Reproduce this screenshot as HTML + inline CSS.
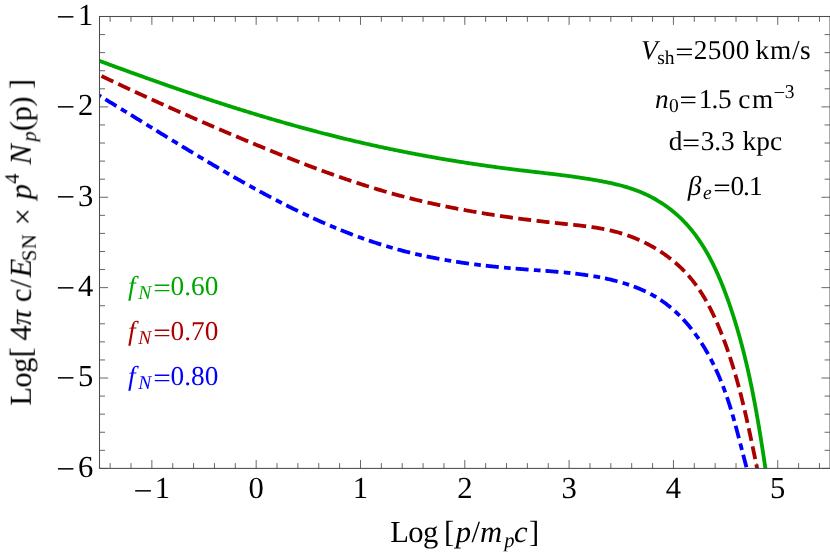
<!DOCTYPE html>
<html><head><meta charset="utf-8"><title>plot</title>
<style>
html,body{margin:0;padding:0;background:#fff;}
svg{display:block;text-rendering:geometricPrecision;font-family:"Liberation Serif","DejaVu Serif",serif;fill:#000;}
</style></head><body>
<svg width="830" height="554" viewBox="0 0 830 554">
<rect width="830" height="554" fill="#fff"/>
<defs><clipPath id="c"><rect x="99.7" y="16.5" width="730.20" height="451.90"/></clipPath></defs>
<g clip-path="url(#c)" fill="none" stroke-width="3.8">
<path d="M99.10,60.73 L100.03,61.08 L100.96,61.43 L101.89,61.77 L102.82,62.12 L103.75,62.46 L104.68,62.81 L105.61,63.15 L106.54,63.50 L107.47,63.84 L108.40,64.19 L109.34,64.53 L110.27,64.87 L111.20,65.22 L112.13,65.56 L113.06,65.90 L113.99,66.25 L114.93,66.59 L115.86,66.93 L116.79,67.27 L117.72,67.61 L118.65,67.96 L119.59,68.30 L120.52,68.64 L121.45,68.98 L122.38,69.32 L123.32,69.66 L124.25,70.00 L125.18,70.34 L126.12,70.68 L127.05,71.02 L127.98,71.36 L128.91,71.70 L129.85,72.04 L130.78,72.37 L131.72,72.71 L132.65,73.05 L133.58,73.39 L134.52,73.73 L135.45,74.06 L136.38,74.40 L137.32,74.74 L138.25,75.07 L139.19,75.41 L140.12,75.74 L141.06,76.08 L141.99,76.41 L142.93,76.75 L143.86,77.08 L144.80,77.42 L145.73,77.75 L146.67,78.09 L147.60,78.42 L148.54,78.75 L149.47,79.09 L150.41,79.42 L151.34,79.75 L152.28,80.08 L153.21,80.41 L154.15,80.75 L155.09,81.08 L156.02,81.41 L156.96,81.74 L157.90,82.07 L158.83,82.40 L159.77,82.73 L160.70,83.06 L161.64,83.39 L162.58,83.71 L163.52,84.04 L164.45,84.37 L165.39,84.70 L166.33,85.03 L167.26,85.35 L168.20,85.68 L169.14,86.01 L170.08,86.33 L171.02,86.66 L171.95,86.98 L172.89,87.31 L173.83,87.63 L174.77,87.96 L175.71,88.28 L176.65,88.60 L177.58,88.93 L178.52,89.25 L179.46,89.57 L180.40,89.89 L181.34,90.22 L182.28,90.54 L183.22,90.86 L184.16,91.18 L185.10,91.50 L186.04,91.82 L186.98,92.14 L187.92,92.46 L188.86,92.78 L189.80,93.10 L190.74,93.42 L191.68,93.73 L192.62,94.05 L193.56,94.37 L194.50,94.68 L195.44,95.00 L196.38,95.32 L197.32,95.63 L198.27,95.95 L199.21,96.26 L200.15,96.58 L201.09,96.89 L202.03,97.20 L202.97,97.52 L203.92,97.83 L204.86,98.14 L205.80,98.45 L206.74,98.77 L207.69,99.08 L208.63,99.39 L209.57,99.70 L210.51,100.01 L211.46,100.32 L212.40,100.63 L213.34,100.94 L214.29,101.24 L215.23,101.55 L216.17,101.86 L217.12,102.17 L218.06,102.47 L219.01,102.78 L219.95,103.09 L220.89,103.39 L221.84,103.70 L222.78,104.00 L223.73,104.30 L224.67,104.61 L225.62,104.91 L226.56,105.21 L227.51,105.52 L228.45,105.82 L229.40,106.12 L230.34,106.42 L231.29,106.72 L232.24,107.02 L233.18,107.32 L234.13,107.62 L235.07,107.92 L236.02,108.22 L236.97,108.52 L237.91,108.81 L238.86,109.11 L239.81,109.41 L240.76,109.70 L241.70,110.00 L242.65,110.29 L243.60,110.59 L244.55,110.88 L245.49,111.18 L246.44,111.47 L247.39,111.76 L248.34,112.05 L249.29,112.35 L250.23,112.64 L251.18,112.93 L252.13,113.22 L253.08,113.51 L254.03,113.80 L254.98,114.09 L255.93,114.37 L256.88,114.66 L257.83,114.95 L258.78,115.24 L259.73,115.52 L260.68,115.81 L261.63,116.09 L262.58,116.38 L263.53,116.66 L264.48,116.95 L265.43,117.23 L266.38,117.51 L267.33,117.79 L268.28,118.08 L269.24,118.36 L270.19,118.64 L271.14,118.92 L272.09,119.20 L273.04,119.48 L274.00,119.75 L274.95,120.03 L275.90,120.31 L276.85,120.59 L277.81,120.86 L278.76,121.14 L279.71,121.42 L280.66,121.69 L281.62,121.96 L282.57,122.24 L283.53,122.51 L284.48,122.78 L285.43,123.06 L286.39,123.33 L287.34,123.60 L288.30,123.87 L289.25,124.14 L290.21,124.41 L291.16,124.68 L292.12,124.95 L293.07,125.21 L294.03,125.48 L294.98,125.75 L295.94,126.01 L296.89,126.28 L297.85,126.54 L298.81,126.81 L299.76,127.07 L300.72,127.33 L301.68,127.60 L302.63,127.86 L303.59,128.12 L304.55,128.38 L305.50,128.64 L306.46,128.90 L307.42,129.16 L308.38,129.42 L309.34,129.68 L310.29,129.93 L311.25,130.19 L312.21,130.44 L313.17,130.70 L314.13,130.96 L315.09,131.21 L316.05,131.46 L317.01,131.72 L317.97,131.97 L318.92,132.22 L319.88,132.47 L320.84,132.72 L321.80,132.97 L322.77,133.22 L323.73,133.47 L324.69,133.72 L325.65,133.97 L326.61,134.21 L327.57,134.46 L328.53,134.70 L329.49,134.95 L330.45,135.19 L331.42,135.44 L332.38,135.68 L333.34,135.92 L334.30,136.16 L335.27,136.40 L336.23,136.65 L337.19,136.89 L338.15,137.12 L339.12,137.36 L340.08,137.60 L341.04,137.84 L342.01,138.07 L342.97,138.31 L343.94,138.55 L344.90,138.78 L345.86,139.01 L346.83,139.25 L347.79,139.48 L348.76,139.71 L349.72,139.94 L350.69,140.17 L351.66,140.40 L352.62,140.63 L353.59,140.86 L354.55,141.09 L355.52,141.32 L356.49,141.54 L357.45,141.77 L358.42,141.99 L359.39,142.22 L360.35,142.44 L361.32,142.67 L362.29,142.89 L363.26,143.11 L364.22,143.33 L365.19,143.55 L366.16,143.77 L367.13,143.99 L368.10,144.21 L369.07,144.43 L370.04,144.64 L371.01,144.86 L371.97,145.08 L372.94,145.29 L373.91,145.50 L374.88,145.72 L375.85,145.93 L376.82,146.14 L377.79,146.35 L378.76,146.57 L379.73,146.78 L380.71,146.99 L381.68,147.19 L382.65,147.40 L383.62,147.61 L384.59,147.82 L385.56,148.02 L386.53,148.23 L387.51,148.43 L388.48,148.64 L389.45,148.84 L390.42,149.04 L391.39,149.25 L392.37,149.45 L393.34,149.65 L394.31,149.85 L395.29,150.05 L396.26,150.25 L397.23,150.45 L398.21,150.64 L399.18,150.84 L400.15,151.04 L401.13,151.23 L402.10,151.43 L403.08,151.62 L404.05,151.81 L405.03,152.01 L406.00,152.20 L406.97,152.39 L407.95,152.58 L408.93,152.77 L409.90,152.96 L410.88,153.15 L411.85,153.34 L412.83,153.53 L413.80,153.71 L414.78,153.90 L415.75,154.09 L416.73,154.27 L417.71,154.45 L418.68,154.64 L419.66,154.82 L420.64,155.00 L421.61,155.19 L422.59,155.37 L423.57,155.55 L424.54,155.73 L425.52,155.91 L426.50,156.08 L427.48,156.26 L428.45,156.44 L429.43,156.62 L430.41,156.79 L431.39,156.97 L432.37,157.14 L433.34,157.32 L434.32,157.49 L435.30,157.66 L436.28,157.83 L437.26,158.01 L438.24,158.18 L439.21,158.35 L440.19,158.52 L441.17,158.68 L442.15,158.85 L443.13,159.02 L444.11,159.19 L445.09,159.35 L446.07,159.52 L447.05,159.68 L448.03,159.85 L449.01,160.01 L449.99,160.18 L450.97,160.34 L451.95,160.50 L452.93,160.66 L453.91,160.82 L454.89,160.98 L455.87,161.14 L456.85,161.30 L457.83,161.46 L458.81,161.61 L459.79,161.77 L460.77,161.93 L461.75,162.08 L462.74,162.24 L463.72,162.39 L464.70,162.55 L465.68,162.70 L466.66,162.85 L467.64,163.00 L468.62,163.15 L469.60,163.30 L470.59,163.45 L471.57,163.60 L472.55,163.75 L473.53,163.90 L474.51,164.05 L475.50,164.19 L476.48,164.34 L477.46,164.49 L478.44,164.63 L479.43,164.77 L480.41,164.92 L481.39,165.06 L482.37,165.20 L483.36,165.34 L484.34,165.49 L485.32,165.63 L486.30,165.77 L487.29,165.91 L488.27,166.04 L489.25,166.18 L490.24,166.32 L491.22,166.46 L492.20,166.59 L493.19,166.73 L494.17,166.86 L495.15,167.00 L496.14,167.13 L497.12,167.26 L498.10,167.40 L499.09,167.53 L500.07,167.66 L501.05,167.79 L502.04,167.92 L503.02,168.05 L504.00,168.18 L504.99,168.31 L505.97,168.44 L506.96,168.56 L507.94,168.69 L508.92,168.81 L509.91,168.94 L510.89,169.06 L511.88,169.19 L512.86,169.31 L513.84,169.43 L514.83,169.56 L515.81,169.68 L516.80,169.80 L517.78,169.92 L518.77,170.04 L519.75,170.16 L520.73,170.28 L521.72,170.40 L522.70,170.51 L523.69,170.63 L524.67,170.75 L525.66,170.86 L526.64,170.98 L527.63,171.10 L528.61,171.21 L529.59,171.33 L530.58,171.44 L531.56,171.56 L532.55,171.67 L533.53,171.79 L534.52,171.90 L535.50,172.01 L536.49,172.13 L537.47,172.24 L538.46,172.36 L539.44,172.47 L540.42,172.59 L541.41,172.70 L542.39,172.82 L543.38,172.93 L544.36,173.05 L545.35,173.16 L546.33,173.28 L547.32,173.39 L548.30,173.51 L549.28,173.63 L550.27,173.74 L551.25,173.86 L552.24,173.98 L553.22,174.10 L554.21,174.22 L555.19,174.34 L556.17,174.46 L557.16,174.58 L558.14,174.70 L559.13,174.82 L560.11,174.95 L561.09,175.07 L562.08,175.19 L563.06,175.32 L564.05,175.45 L565.03,175.57 L566.01,175.70 L567.00,175.83 L567.98,175.96 L568.96,176.09 L569.95,176.22 L570.93,176.36 L571.91,176.49 L572.89,176.63 L573.88,176.77 L574.86,176.90 L575.84,177.04 L576.83,177.18 L577.81,177.32 L578.79,177.47 L579.77,177.61 L580.76,177.76 L581.74,177.91 L582.72,178.06 L583.70,178.21 L584.68,178.36 L585.67,178.51 L586.65,178.67 L587.63,178.82 L588.61,178.98 L589.59,179.14 L590.57,179.30 L591.56,179.47 L592.54,179.63 L593.52,179.80 L594.50,179.97 L595.48,180.14 L596.46,180.31 L597.44,180.49 L598.42,180.66 L599.40,180.84 L600.38,181.02 L601.36,181.21 L602.34,181.39 L603.32,181.58 L604.30,181.77 L605.28,181.96 L606.25,182.16 L607.23,182.36 L608.21,182.56 L609.18,182.77 L610.16,182.98 L611.13,183.19 L612.10,183.40 L613.08,183.62 L614.05,183.85 L615.02,184.07 L615.99,184.30 L616.95,184.54 L617.92,184.78 L618.89,185.02 L619.85,185.27 L620.81,185.52 L621.77,185.78 L622.73,186.04 L623.69,186.31 L624.65,186.58 L625.60,186.86 L626.55,187.14 L627.50,187.42 L628.45,187.72 L629.40,188.02 L630.34,188.32 L631.29,188.63 L632.23,188.95 L633.17,189.27 L634.10,189.60 L635.04,189.93 L635.97,190.27 L636.90,190.62 L637.82,190.97 L638.75,191.33 L639.67,191.70 L640.59,192.07 L641.50,192.45 L642.42,192.84 L643.33,193.24 L644.24,193.64 L645.14,194.05 L646.04,194.47 L646.94,194.89 L647.83,195.32 L648.73,195.76 L649.62,196.21 L650.50,196.66 L651.38,197.12 L652.26,197.58 L653.14,198.05 L654.01,198.53 L654.87,199.02 L655.74,199.51 L656.60,200.01 L657.45,200.52 L658.30,201.03 L659.15,201.55 L660.00,202.07 L660.84,202.60 L661.67,203.14 L662.50,203.68 L663.33,204.23 L664.15,204.79 L664.97,205.35 L665.78,205.92 L666.59,206.49 L667.39,207.07 L668.19,207.66 L668.98,208.25 L669.77,208.85 L670.56,209.45 L671.34,210.06 L672.11,210.67 L672.88,211.30 L673.64,211.92 L674.40,212.55 L675.15,213.19 L675.90,213.83 L676.64,214.48 L677.38,215.14 L678.11,215.80 L678.83,216.46 L679.55,217.13 L680.26,217.81 L680.97,218.49 L681.67,219.17 L682.37,219.86 L683.06,220.56 L683.74,221.26 L684.42,221.97 L685.09,222.68 L685.76,223.39 L686.42,224.11 L687.08,224.84 L687.73,225.57 L688.38,226.30 L689.02,227.04 L689.66,227.78 L690.29,228.53 L690.92,229.28 L691.54,230.04 L692.15,230.80 L692.76,231.57 L693.37,232.34 L693.97,233.11 L694.57,233.89 L695.16,234.67 L695.75,235.45 L696.33,236.24 L696.90,237.04 L697.48,237.84 L698.04,238.64 L698.61,239.44 L699.16,240.25 L699.72,241.07 L700.27,241.88 L700.81,242.70 L701.35,243.53 L701.89,244.35 L702.42,245.18 L702.95,246.02 L703.47,246.86 L703.99,247.70 L704.50,248.54 L705.01,249.39 L705.52,250.24 L706.02,251.09 L706.52,251.95 L707.01,252.81 L707.50,253.67 L707.99,254.53 L708.47,255.40 L708.95,256.27 L709.42,257.15 L709.89,258.02 L710.36,258.90 L710.82,259.78 L711.28,260.67 L711.73,261.55 L712.19,262.44 L712.63,263.33 L713.08,264.23 L713.52,265.12 L713.96,266.02 L714.39,266.92 L714.82,267.82 L715.25,268.73 L715.67,269.63 L716.09,270.54 L716.51,271.45 L716.93,272.36 L717.34,273.28 L717.75,274.19 L718.15,275.11 L718.55,276.03 L718.95,276.95 L719.35,277.87 L719.74,278.80 L720.13,279.72 L720.52,280.65 L720.90,281.58 L721.29,282.51 L721.66,283.44 L722.04,284.37 L722.41,285.30 L722.79,286.24 L723.15,287.17 L723.52,288.11 L723.88,289.05 L724.24,289.99 L724.60,290.93 L724.96,291.87 L725.31,292.81 L725.66,293.75 L726.01,294.69 L726.36,295.64 L726.70,296.58 L727.04,297.52 L727.39,298.47 L727.72,299.41 L728.06,300.36 L728.39,301.30 L728.72,302.25 L729.05,303.20 L729.38,304.14 L729.71,305.09 L730.03,306.04 L730.36,306.98 L730.68,307.93 L730.99,308.88 L731.31,309.83 L731.63,310.77 L731.94,311.72 L732.25,312.67 L732.56,313.62 L732.87,314.57 L733.17,315.52 L733.48,316.47 L733.78,317.42 L734.08,318.37 L734.38,319.32 L734.67,320.27 L734.97,321.22 L735.26,322.17 L735.55,323.12 L735.84,324.07 L736.13,325.02 L736.41,325.98 L736.70,326.93 L736.98,327.88 L737.26,328.83 L737.54,329.79 L737.82,330.74 L738.10,331.69 L738.37,332.65 L738.64,333.60 L738.91,334.55 L739.18,335.51 L739.45,336.46 L739.72,337.42 L739.98,338.37 L740.25,339.33 L740.51,340.28 L740.77,341.24 L741.03,342.20 L741.28,343.15 L741.54,344.11 L741.79,345.06 L742.05,346.02 L742.30,346.98 L742.55,347.94 L742.80,348.89 L743.04,349.85 L743.29,350.81 L743.53,351.77 L743.77,352.73 L744.01,353.69 L744.25,354.65 L744.49,355.61 L744.73,356.56 L744.96,357.52 L745.20,358.48 L745.43,359.45 L745.66,360.41 L745.89,361.37 L746.12,362.33 L746.35,363.29 L746.58,364.25 L746.80,365.21 L747.02,366.17 L747.25,367.14 L747.47,368.10 L747.69,369.06 L747.91,370.03 L748.12,370.99 L748.34,371.95 L748.55,372.92 L748.77,373.88 L748.98,374.85 L749.19,375.81 L749.40,376.77 L749.61,377.74 L749.82,378.71 L750.03,379.67 L750.23,380.64 L750.44,381.60 L750.64,382.57 L750.84,383.54 L751.04,384.50 L751.24,385.47 L751.44,386.44 L751.64,387.40 L751.84,388.37 L752.04,389.34 L752.23,390.31 L752.42,391.28 L752.62,392.25 L752.81,393.22 L753.00,394.19 L753.19,395.15 L753.38,396.12 L753.57,397.09 L753.76,398.07 L753.94,399.04 L754.13,400.01 L754.31,400.98 L754.50,401.95 L754.68,402.92 L754.86,403.89 L755.04,404.86 L755.22,405.84 L755.40,406.81 L755.58,407.78 L755.76,408.76 L755.94,409.73 L756.11,410.70 L756.29,411.68 L756.46,412.65 L756.64,413.63 L756.81,414.60 L756.98,415.58 L757.15,416.55 L757.32,417.53 L757.49,418.50 L757.66,419.48 L757.83,420.45 L758.00,421.43 L758.17,422.41 L758.33,423.38 L758.50,424.36 L758.66,425.34 L758.83,426.32 L758.99,427.30 L759.16,428.27 L759.32,429.25 L759.48,430.23 L759.64,431.21 L759.80,432.19 L759.97,433.17 L760.13,434.15 L760.28,435.13 L760.44,436.11 L760.60,437.09 L760.76,438.07 L760.92,439.05 L761.07,440.03 L761.23,441.02 L761.39,442.00 L761.54,442.98 L761.70,443.96 L761.85,444.95 L762.01,445.93 L762.16,446.91 L762.31,447.90 L762.47,448.88 L762.62,449.86 L762.77,450.85 L762.92,451.83 L763.07,452.82 L763.23,453.80 L763.38,454.79 L763.53,455.77 L763.68,456.76 L763.83,457.75 L763.98,458.73 L764.13,459.72 L764.27,460.71 L764.42,461.69 L764.57,462.68 L764.72,463.67 L764.87,464.66 L765.02,465.64 L765.16,466.63 L765.31,467.62 L765.46,468.61 L765.61,469.60 L765.75,470.59 L765.90,471.58 L766.05,472.57 L766.19,473.56 L766.34,474.55 L766.48,475.54 L766.63,476.53 L766.78,477.53 L766.92,478.52 L767.07,479.51 L767.21,480.50 L767.36,481.49 L767.51,482.49 L767.65,483.48 L767.80,484.47 L767.94,485.47" stroke="#00a600"/>
<path d="M99.21,74.92 L100.07,75.33 L100.93,75.75 L101.79,76.16 L102.65,76.57 L103.51,76.98 L104.38,77.39 L105.24,77.80 L106.10,78.22 L106.96,78.63 L107.82,79.04 L108.68,79.44 L109.54,79.85 L110.40,80.26 L111.26,80.67 L112.12,81.08 L112.98,81.49 L113.84,81.89 L114.70,82.30 L115.56,82.71 L116.42,83.11 L117.28,83.52 L118.14,83.92 L119.01,84.33 L119.87,84.73 L120.73,85.14 L121.59,85.54 L122.45,85.95 L123.31,86.35 L124.17,86.75 L125.03,87.16 L125.90,87.56 L126.76,87.96 L127.62,88.36 L128.48,88.76 L129.34,89.17 L130.20,89.57 L131.07,89.97 L131.93,90.37 L132.79,90.77 L133.65,91.17 L134.51,91.56 L135.38,91.96 L136.24,92.36 L137.10,92.76 L137.96,93.16 L138.83,93.56 L139.69,93.95 L140.55,94.35 L141.41,94.75 L142.28,95.14 L143.14,95.54 L144.00,95.93 L144.87,96.33 L145.73,96.72 L146.59,97.12 L147.46,97.51 L148.32,97.91 L149.18,98.30 L150.05,98.70 L150.91,99.09 L151.77,99.48 L152.64,99.87 L153.50,100.27 L154.36,100.66 L155.23,101.05 L156.09,101.44 L156.96,101.83 L157.82,102.22 L158.69,102.61 L159.55,103.00 L160.41,103.39 L161.28,103.78 L162.14,104.17 L163.01,104.56 L163.87,104.95 L164.74,105.34 L165.60,105.73 L166.47,106.12 L167.33,106.50 L168.20,106.89 L169.07,107.28 L169.93,107.67 L170.80,108.05 L171.66,108.44 L172.53,108.82 L173.40,109.21 L174.26,109.60 L175.13,109.98 L175.99,110.37 L176.86,110.75 L177.73,111.14 L178.59,111.52 L179.46,111.90 L180.33,112.29 L181.19,112.67 L182.06,113.05 L182.93,113.44 L183.80,113.82 L184.66,114.20 L185.53,114.58 L186.40,114.97 L187.27,115.35 L188.13,115.73 L189.00,116.11 L189.87,116.49 L190.74,116.87 L191.61,117.25 L192.48,117.63 L193.34,118.01 L194.21,118.39 L195.08,118.77 L195.95,119.15 L196.82,119.53 L197.69,119.91 L198.56,120.28 L199.43,120.66 L200.30,121.04 L201.17,121.42 L202.04,121.80 L202.91,122.17 L203.78,122.55 L204.65,122.93 L205.52,123.30 L206.39,123.68 L207.26,124.06 L208.13,124.43 L209.00,124.81 L209.87,125.18 L210.74,125.56 L211.61,125.93 L212.49,126.31 L213.36,126.68 L214.23,127.06 L215.10,127.43 L215.97,127.80 L216.84,128.18 L217.72,128.55 L218.59,128.93 L219.46,129.30 L220.33,129.67 L221.21,130.04 L222.08,130.42 L222.95,130.79 L223.83,131.16 L224.70,131.53 L225.57,131.90 L226.45,132.28 L227.32,132.65 L228.19,133.02 L229.07,133.39 L229.94,133.76 L230.82,134.13 L231.69,134.50 L232.57,134.87 L233.44,135.24 L234.32,135.61 L235.19,135.98 L236.07,136.35 L236.94,136.72 L237.82,137.09 L238.69,137.45 L239.57,137.82 L240.45,138.19 L241.32,138.56 L242.20,138.93 L243.08,139.30 L243.95,139.66 L244.83,140.03 L245.71,140.40 L246.58,140.77 L247.46,141.13 L248.34,141.50 L249.22,141.87 L250.10,142.23 L250.97,142.60 L251.85,142.96 L252.73,143.33 L253.61,143.69 L254.49,144.06 L255.37,144.42 L256.25,144.79 L257.12,145.15 L258.00,145.52 L258.88,145.88 L259.76,146.24 L260.64,146.61 L261.52,146.97 L262.40,147.33 L263.28,147.69 L264.17,148.06 L265.05,148.42 L265.93,148.78 L266.81,149.14 L267.69,149.50 L268.57,149.86 L269.45,150.22 L270.34,150.58 L271.22,150.94 L272.10,151.30 L272.98,151.65 L273.86,152.01 L274.75,152.37 L275.63,152.73 L276.51,153.08 L277.40,153.44 L278.28,153.79 L279.16,154.15 L280.05,154.51 L280.93,154.86 L281.82,155.21 L282.70,155.57 L283.59,155.92 L284.47,156.27 L285.36,156.63 L286.24,156.98 L287.13,157.33 L288.01,157.68 L288.90,158.03 L289.79,158.38 L290.67,158.73 L291.56,159.08 L292.44,159.43 L293.33,159.77 L294.22,160.12 L295.11,160.47 L295.99,160.82 L296.88,161.16 L297.77,161.51 L298.66,161.85 L299.54,162.20 L300.43,162.54 L301.32,162.88 L302.21,163.22 L303.10,163.57 L303.99,163.91 L304.88,164.25 L305.77,164.59 L306.66,164.93 L307.55,165.27 L308.44,165.60 L309.33,165.94 L310.22,166.28 L311.11,166.62 L312.00,166.95 L312.89,167.29 L313.78,167.62 L314.68,167.95 L315.57,168.29 L316.46,168.62 L317.35,168.95 L318.25,169.28 L319.14,169.61 L320.03,169.94 L320.92,170.27 L321.82,170.60 L322.71,170.93 L323.61,171.25 L324.50,171.58 L325.39,171.91 L326.29,172.23 L327.18,172.55 L328.08,172.88 L328.97,173.20 L329.87,173.52 L330.76,173.84 L331.66,174.16 L332.56,174.48 L333.45,174.80 L334.35,175.12 L335.25,175.44 L336.14,175.75 L337.04,176.07 L337.94,176.38 L338.84,176.70 L339.73,177.01 L340.63,177.32 L341.53,177.63 L342.43,177.94 L343.33,178.25 L344.23,178.56 L345.13,178.87 L346.02,179.18 L346.92,179.48 L347.82,179.79 L348.72,180.09 L349.62,180.40 L350.53,180.70 L351.43,181.00 L352.33,181.30 L353.23,181.60 L354.13,181.90 L355.03,182.20 L355.93,182.49 L356.84,182.79 L357.74,183.09 L358.64,183.38 L359.55,183.67 L360.45,183.97 L361.35,184.26 L362.26,184.55 L363.16,184.84 L364.06,185.13 L364.97,185.41 L365.87,185.70 L366.78,185.99 L367.68,186.27 L368.59,186.55 L369.49,186.84 L370.40,187.12 L371.31,187.40 L372.21,187.68 L373.12,187.96 L374.03,188.23 L374.93,188.51 L375.84,188.78 L376.75,189.06 L377.66,189.33 L378.57,189.60 L379.47,189.88 L380.38,190.15 L381.29,190.41 L382.20,190.68 L383.11,190.95 L384.02,191.21 L384.93,191.48 L385.84,191.74 L386.75,192.00 L387.66,192.26 L388.57,192.52 L389.49,192.78 L390.40,193.04 L391.31,193.30 L392.22,193.55 L393.13,193.81 L394.05,194.06 L394.96,194.31 L395.87,194.56 L396.79,194.81 L397.70,195.06 L398.61,195.30 L399.53,195.55 L400.44,195.79 L401.36,196.04 L402.27,196.28 L403.19,196.52 L404.10,196.76 L405.02,197.00 L405.93,197.24 L406.85,197.47 L407.77,197.71 L408.68,197.94 L409.60,198.17 L410.52,198.41 L411.44,198.64 L412.35,198.87 L413.27,199.09 L414.19,199.32 L415.11,199.55 L416.03,199.77 L416.95,199.99 L417.87,200.22 L418.79,200.44 L419.71,200.66 L420.63,200.88 L421.55,201.09 L422.47,201.31 L423.39,201.53 L424.31,201.74 L425.23,201.96 L426.15,202.17 L427.08,202.38 L428.00,202.59 L428.92,202.80 L429.84,203.01 L430.77,203.21 L431.69,203.42 L432.61,203.62 L433.54,203.83 L434.46,204.03 L435.39,204.23 L436.31,204.43 L437.24,204.63 L438.16,204.83 L439.09,205.03 L440.01,205.23 L440.94,205.42 L441.86,205.62 L442.79,205.81 L443.72,206.00 L444.64,206.19 L445.57,206.39 L446.50,206.58 L447.42,206.76 L448.35,206.95 L449.28,207.14 L450.21,207.32 L451.14,207.51 L452.06,207.69 L452.99,207.87 L453.92,208.06 L454.85,208.24 L455.78,208.42 L456.71,208.60 L457.64,208.77 L458.57,208.95 L459.50,209.13 L460.43,209.30 L461.36,209.48 L462.29,209.65 L463.22,209.82 L464.16,209.99 L465.09,210.16 L466.02,210.33 L466.95,210.50 L467.88,210.67 L468.82,210.84 L469.75,211.00 L470.68,211.17 L471.62,211.33 L472.55,211.50 L473.48,211.66 L474.42,211.82 L475.35,211.98 L476.29,212.14 L477.22,212.30 L478.16,212.46 L479.09,212.62 L480.03,212.77 L480.96,212.93 L481.90,213.08 L482.83,213.24 L483.77,213.39 L484.71,213.54 L485.64,213.70 L486.58,213.85 L487.52,214.00 L488.45,214.15 L489.39,214.29 L490.33,214.44 L491.27,214.59 L492.21,214.73 L493.14,214.88 L494.08,215.02 L495.02,215.17 L495.96,215.31 L496.90,215.45 L497.84,215.59 L498.78,215.74 L499.72,215.87 L500.66,216.01 L501.60,216.15 L502.54,216.29 L503.48,216.43 L504.42,216.56 L505.36,216.70 L506.30,216.83 L507.24,216.97 L508.19,217.10 L509.13,217.23 L510.07,217.36 L511.01,217.50 L511.95,217.63 L512.90,217.76 L513.84,217.88 L514.78,218.01 L515.73,218.14 L516.67,218.27 L517.61,218.39 L518.56,218.52 L519.50,218.64 L520.44,218.77 L521.39,218.89 L522.33,219.02 L523.28,219.14 L524.22,219.26 L525.17,219.38 L526.11,219.50 L527.06,219.62 L528.01,219.74 L528.95,219.86 L529.90,219.98 L530.84,220.09 L531.79,220.21 L532.74,220.33 L533.68,220.44 L534.63,220.56 L535.58,220.67 L536.53,220.78 L537.47,220.90 L538.42,221.01 L539.37,221.12 L540.32,221.23 L541.26,221.34 L542.21,221.45 L543.16,221.56 L544.11,221.67 L545.06,221.78 L546.01,221.89 L546.96,222.00 L547.91,222.10 L548.86,222.21 L549.81,222.32 L550.76,222.42 L551.71,222.53 L552.66,222.63 L553.61,222.73 L554.56,222.84 L555.51,222.94 L556.46,223.04 L557.41,223.14 L558.36,223.25 L559.32,223.35 L560.27,223.45 L561.22,223.55 L562.17,223.65 L563.12,223.74 L564.08,223.84 L565.03,223.94 L565.98,224.04 L566.93,224.14 L567.89,224.24 L568.84,224.33 L569.79,224.43 L570.74,224.53 L571.70,224.63 L572.65,224.73 L573.60,224.83 L574.55,224.94 L575.50,225.04 L576.46,225.14 L577.41,225.25 L578.36,225.35 L579.31,225.46 L580.26,225.57 L581.21,225.68 L582.16,225.79 L583.11,225.91 L584.06,226.02 L585.00,226.14 L585.95,226.26 L586.90,226.38 L587.85,226.50 L588.79,226.63 L589.74,226.76 L590.68,226.89 L591.63,227.03 L592.57,227.16 L593.51,227.30 L594.45,227.45 L595.39,227.59 L596.33,227.74 L597.27,227.89 L598.21,228.05 L599.15,228.21 L600.09,228.37 L601.02,228.54 L601.96,228.71 L602.89,228.88 L603.82,229.06 L604.75,229.24 L605.68,229.43 L606.61,229.62 L607.54,229.81 L608.47,230.01 L609.39,230.22 L610.32,230.43 L611.24,230.64 L612.16,230.86 L613.08,231.09 L614.00,231.31 L614.92,231.55 L615.84,231.79 L616.75,232.03 L617.66,232.28 L618.58,232.54 L619.49,232.80 L620.40,233.07 L621.30,233.34 L622.21,233.62 L623.11,233.90 L624.02,234.19 L624.92,234.49 L625.81,234.79 L626.71,235.09 L627.61,235.40 L628.50,235.72 L629.39,236.04 L630.28,236.37 L631.17,236.70 L632.05,237.04 L632.93,237.38 L633.81,237.73 L634.69,238.08 L635.57,238.44 L636.44,238.81 L637.31,239.18 L638.18,239.55 L639.05,239.93 L639.91,240.32 L640.78,240.71 L641.63,241.10 L642.49,241.51 L643.35,241.91 L644.20,242.32 L645.05,242.74 L645.89,243.16 L646.74,243.59 L647.58,244.02 L648.41,244.46 L649.25,244.91 L650.08,245.35 L650.91,245.81 L651.74,246.27 L652.56,246.73 L653.38,247.20 L654.20,247.67 L655.01,248.15 L655.82,248.64 L656.63,249.13 L657.43,249.62 L658.23,250.12 L659.03,250.62 L659.82,251.13 L660.61,251.65 L661.40,252.17 L662.19,252.69 L662.97,253.22 L663.74,253.76 L664.52,254.30 L665.29,254.84 L666.05,255.39 L666.81,255.95 L667.57,256.51 L668.33,257.07 L669.08,257.64 L669.82,258.21 L670.57,258.79 L671.30,259.38 L672.04,259.97 L672.77,260.56 L673.50,261.16 L674.22,261.76 L674.94,262.37 L675.65,262.99 L676.36,263.60 L677.07,264.23 L677.77,264.86 L678.47,265.49 L679.16,266.13 L679.85,266.77 L680.53,267.42 L681.21,268.07 L681.89,268.72 L682.56,269.39 L683.22,270.05 L683.88,270.72 L684.54,271.40 L685.19,272.08 L685.84,272.77 L686.48,273.45 L687.12,274.15 L687.75,274.85 L688.38,275.55 L689.00,276.26 L689.62,276.97 L690.23,277.69 L690.84,278.41 L691.44,279.14 L692.04,279.87 L692.63,280.61 L693.21,281.35 L693.79,282.10 L694.37,282.85 L694.94,283.60 L695.51,284.36 L696.07,285.12 L696.63,285.89 L697.18,286.66 L697.72,287.43 L698.27,288.21 L698.80,289.00 L699.33,289.78 L699.86,290.57 L700.39,291.37 L700.90,292.16 L701.42,292.96 L701.93,293.77 L702.43,294.57 L702.93,295.38 L703.43,296.20 L703.92,297.02 L704.41,297.83 L704.89,298.66 L705.37,299.48 L705.85,300.31 L706.32,301.14 L706.79,301.98 L707.25,302.81 L707.71,303.65 L708.16,304.49 L708.62,305.34 L709.06,306.18 L709.51,307.03 L709.95,307.88 L710.39,308.73 L710.82,309.59 L711.25,310.44 L711.68,311.30 L712.10,312.16 L712.52,313.02 L712.93,313.88 L713.35,314.75 L713.76,315.61 L714.16,316.48 L714.57,317.35 L714.97,318.22 L715.36,319.09 L715.76,319.96 L716.15,320.84 L716.54,321.71 L716.92,322.59 L717.30,323.47 L717.68,324.34 L718.06,325.22 L718.43,326.11 L718.80,326.99 L719.17,327.87 L719.54,328.75 L719.90,329.64 L720.26,330.52 L720.62,331.41 L720.97,332.30 L721.33,333.19 L721.68,334.07 L722.02,334.96 L722.37,335.85 L722.71,336.74 L723.05,337.63 L723.39,338.53 L723.73,339.42 L724.06,340.31 L724.40,341.20 L724.73,342.10 L725.06,342.99 L725.38,343.89 L725.71,344.78 L726.03,345.68 L726.35,346.57 L726.67,347.47 L726.98,348.37 L727.30,349.26 L727.61,350.16 L727.92,351.06 L728.23,351.96 L728.53,352.86 L728.84,353.76 L729.14,354.66 L729.44,355.56 L729.74,356.46 L730.03,357.36 L730.33,358.27 L730.62,359.17 L730.91,360.07 L731.20,360.97 L731.49,361.88 L731.78,362.78 L732.06,363.69 L732.34,364.59 L732.63,365.50 L732.91,366.40 L733.18,367.31 L733.46,368.22 L733.73,369.12 L734.01,370.03 L734.28,370.94 L734.55,371.85 L734.81,372.76 L735.08,373.67 L735.35,374.58 L735.61,375.49 L735.87,376.40 L736.13,377.31 L736.39,378.22 L736.65,379.13 L736.90,380.04 L737.16,380.95 L737.41,381.86 L737.66,382.78 L737.91,383.69 L738.16,384.60 L738.41,385.52 L738.65,386.43 L738.90,387.35 L739.14,388.26 L739.39,389.18 L739.63,390.09 L739.87,391.01 L740.11,391.93 L740.34,392.84 L740.58,393.76 L740.81,394.68 L741.05,395.59 L741.28,396.51 L741.51,397.43 L741.74,398.35 L741.97,399.27 L742.20,400.19 L742.43,401.10 L742.65,402.02 L742.88,402.94 L743.10,403.86 L743.33,404.78 L743.55,405.71 L743.77,406.63 L743.99,407.55 L744.21,408.47 L744.43,409.39 L744.65,410.31 L744.86,411.24 L745.08,412.16 L745.29,413.08 L745.51,414.00 L745.72,414.93 L745.93,415.85 L746.14,416.77 L746.35,417.70 L746.56,418.62 L746.77,419.55 L746.98,420.47 L747.19,421.40 L747.40,422.32 L747.60,423.25 L747.81,424.17 L748.01,425.10 L748.22,426.03 L748.42,426.95 L748.63,427.88 L748.83,428.80 L749.03,429.73 L749.23,430.66 L749.43,431.59 L749.63,432.51 L749.83,433.44 L750.03,434.37 L750.23,435.30 L750.43,436.22 L750.63,437.15 L750.83,438.08 L751.02,439.01 L751.22,439.94 L751.42,440.87 L751.61,441.80 L751.81,442.73 L752.01,443.66 L752.20,444.58 L752.40,445.51 L752.59,446.44 L752.78,447.37 L752.98,448.30 L753.17,449.23 L753.37,450.16 L753.56,451.10 L753.75,452.03 L753.95,452.96 L754.14,453.89 L754.33,454.82 L754.53,455.75 L754.72,456.68 L754.91,457.61 L755.10,458.54 L755.30,459.47 L755.49,460.41 L755.68,461.34 L755.87,462.27 L756.07,463.20 L756.26,464.13 L756.45,465.06 L756.64,466.00 L756.84,466.93 L757.03,467.86 L757.22,468.79 L757.41,469.73 L757.61,470.66 L757.80,471.59 L757.99,472.52 L758.19,473.46 L758.38,474.39 L758.58,475.32 L758.77,476.25 L758.97,477.19 L759.16,478.12 L759.36,479.05 L759.55,479.98 L759.75,480.92 L759.94,481.85 L760.14,482.78 L760.34,483.71 L760.53,484.65 L760.73,485.58" stroke="#aa0000" stroke-dasharray="13.0 5.435" stroke-dashoffset="-2.61"/>
<path d="M98.99,95.40 L99.77,95.88 L100.55,96.35 L101.33,96.83 L102.11,97.30 L102.89,97.78 L103.67,98.25 L104.44,98.72 L105.22,99.20 L106.00,99.67 L106.77,100.14 L107.55,100.62 L108.32,101.09 L109.10,101.56 L109.87,102.04 L110.65,102.51 L111.42,102.98 L112.19,103.46 L112.97,103.93 L113.74,104.40 L114.51,104.88 L115.28,105.35 L116.05,105.82 L116.83,106.29 L117.60,106.77 L118.37,107.24 L119.14,107.71 L119.91,108.18 L120.68,108.65 L121.45,109.13 L122.21,109.60 L122.98,110.07 L123.75,110.54 L124.52,111.01 L125.29,111.49 L126.06,111.96 L126.82,112.43 L127.59,112.90 L128.36,113.37 L129.12,113.84 L129.89,114.31 L130.66,114.78 L131.42,115.25 L132.19,115.73 L132.95,116.20 L133.72,116.67 L134.48,117.14 L135.25,117.61 L136.01,118.08 L136.78,118.55 L137.54,119.02 L138.31,119.49 L139.07,119.96 L139.83,120.43 L140.60,120.90 L141.36,121.37 L142.13,121.84 L142.89,122.31 L143.65,122.78 L144.42,123.25 L145.18,123.72 L145.94,124.18 L146.70,124.65 L147.47,125.12 L148.23,125.59 L148.99,126.06 L149.76,126.53 L150.52,127.00 L151.28,127.47 L152.04,127.94 L152.81,128.40 L153.57,128.87 L154.33,129.34 L155.09,129.81 L155.85,130.28 L156.62,130.75 L157.38,131.21 L158.14,131.68 L158.90,132.15 L159.67,132.62 L160.43,133.08 L161.19,133.55 L161.95,134.02 L162.72,134.49 L163.48,134.95 L164.24,135.42 L165.00,135.89 L165.77,136.36 L166.53,136.82 L167.29,137.29 L168.05,137.76 L168.82,138.22 L169.58,138.69 L170.34,139.16 L171.11,139.62 L171.87,140.09 L172.63,140.55 L173.40,141.02 L174.16,141.49 L174.93,141.95 L175.69,142.42 L176.45,142.88 L177.22,143.35 L177.98,143.82 L178.75,144.28 L179.51,144.75 L180.28,145.21 L181.04,145.68 L181.81,146.14 L182.57,146.61 L183.34,147.07 L184.11,147.54 L184.87,148.00 L185.64,148.47 L186.41,148.93 L187.17,149.40 L187.94,149.86 L188.71,150.32 L189.48,150.79 L190.24,151.25 L191.01,151.72 L191.78,152.18 L192.55,152.64 L193.32,153.11 L194.09,153.57 L194.86,154.04 L195.63,154.50 L196.40,154.96 L197.17,155.42 L197.94,155.89 L198.71,156.35 L199.48,156.81 L200.25,157.27 L201.02,157.74 L201.80,158.20 L202.57,158.66 L203.34,159.12 L204.11,159.58 L204.89,160.04 L205.66,160.51 L206.43,160.97 L207.21,161.43 L207.98,161.89 L208.76,162.35 L209.53,162.81 L210.31,163.26 L211.08,163.72 L211.86,164.18 L212.63,164.64 L213.41,165.10 L214.19,165.56 L214.96,166.01 L215.74,166.47 L216.52,166.93 L217.30,167.39 L218.07,167.84 L218.85,168.30 L219.63,168.75 L220.41,169.21 L221.19,169.66 L221.97,170.12 L222.75,170.57 L223.53,171.03 L224.31,171.48 L225.09,171.93 L225.87,172.39 L226.65,172.84 L227.43,173.29 L228.21,173.74 L229.00,174.19 L229.78,174.65 L230.56,175.10 L231.34,175.55 L232.13,176.00 L232.91,176.44 L233.69,176.89 L234.48,177.34 L235.26,177.79 L236.05,178.24 L236.83,178.68 L237.62,179.13 L238.40,179.58 L239.19,180.02 L239.98,180.47 L240.76,180.91 L241.55,181.35 L242.34,181.80 L243.12,182.24 L243.91,182.68 L244.70,183.12 L245.49,183.57 L246.28,184.01 L247.07,184.45 L247.86,184.89 L248.65,185.32 L249.44,185.76 L250.23,186.20 L251.02,186.64 L251.81,187.08 L252.60,187.51 L253.39,187.95 L254.19,188.38 L254.98,188.82 L255.77,189.25 L256.56,189.68 L257.36,190.12 L258.15,190.55 L258.95,190.98 L259.74,191.41 L260.53,191.84 L261.33,192.27 L262.13,192.70 L262.92,193.13 L263.72,193.55 L264.51,193.98 L265.31,194.41 L266.11,194.83 L266.91,195.26 L267.70,195.68 L268.50,196.10 L269.30,196.52 L270.10,196.95 L270.90,197.37 L271.70,197.79 L272.50,198.21 L273.30,198.63 L274.10,199.04 L274.90,199.46 L275.70,199.88 L276.50,200.29 L277.31,200.71 L278.11,201.12 L278.91,201.53 L279.72,201.95 L280.52,202.36 L281.32,202.77 L282.13,203.18 L282.93,203.59 L283.74,204.00 L284.54,204.41 L285.35,204.81 L286.15,205.22 L286.96,205.62 L287.77,206.03 L288.58,206.43 L289.38,206.83 L290.19,207.23 L291.00,207.64 L291.81,208.04 L292.62,208.43 L293.43,208.83 L294.24,209.23 L295.05,209.63 L295.86,210.02 L296.67,210.42 L297.48,210.81 L298.29,211.20 L299.10,211.59 L299.92,211.98 L300.73,212.37 L301.54,212.76 L302.36,213.15 L303.17,213.54 L303.99,213.92 L304.80,214.31 L305.62,214.69 L306.43,215.07 L307.25,215.46 L308.06,215.84 L308.88,216.22 L309.70,216.60 L310.52,216.97 L311.33,217.35 L312.15,217.73 L312.97,218.10 L313.79,218.47 L314.61,218.85 L315.43,219.22 L316.25,219.59 L317.07,219.96 L317.89,220.33 L318.71,220.69 L319.54,221.06 L320.36,221.42 L321.18,221.79 L322.01,222.15 L322.83,222.51 L323.65,222.87 L324.48,223.23 L325.30,223.59 L326.13,223.95 L326.95,224.30 L327.78,224.66 L328.61,225.01 L329.43,225.36 L330.26,225.72 L331.09,226.07 L331.92,226.41 L332.75,226.76 L333.58,227.11 L334.40,227.45 L335.23,227.80 L336.07,228.14 L336.90,228.48 L337.73,228.82 L338.56,229.16 L339.39,229.50 L340.22,229.84 L341.06,230.17 L341.89,230.51 L342.72,230.84 L343.56,231.17 L344.39,231.50 L345.23,231.83 L346.06,232.16 L346.90,232.49 L347.74,232.81 L348.57,233.13 L349.41,233.46 L350.25,233.78 L351.09,234.10 L351.92,234.42 L352.76,234.73 L353.60,235.05 L354.44,235.37 L355.28,235.68 L356.12,235.99 L356.97,236.30 L357.81,236.61 L358.65,236.92 L359.49,237.22 L360.34,237.53 L361.18,237.83 L362.02,238.14 L362.87,238.44 L363.71,238.74 L364.56,239.03 L365.40,239.33 L366.25,239.63 L367.10,239.92 L367.94,240.21 L368.79,240.50 L369.64,240.79 L370.49,241.08 L371.34,241.37 L372.19,241.65 L373.04,241.93 L373.89,242.22 L374.74,242.50 L375.59,242.78 L376.44,243.05 L377.30,243.33 L378.15,243.60 L379.00,243.88 L379.86,244.15 L380.71,244.42 L381.56,244.69 L382.42,244.95 L383.27,245.22 L384.13,245.48 L384.99,245.74 L385.84,246.00 L386.70,246.26 L387.56,246.52 L388.42,246.78 L389.28,247.03 L390.14,247.28 L391.00,247.53 L391.86,247.78 L392.72,248.03 L393.58,248.28 L394.44,248.52 L395.31,248.76 L396.17,249.00 L397.03,249.24 L397.90,249.48 L398.76,249.72 L399.62,249.95 L400.49,250.18 L401.36,250.42 L402.22,250.65 L403.09,250.87 L403.96,251.10 L404.82,251.32 L405.69,251.55 L406.56,251.77 L407.43,251.99 L408.30,252.20 L409.17,252.42 L410.04,252.63 L410.91,252.85 L411.79,253.06 L412.66,253.27 L413.53,253.47 L414.40,253.68 L415.28,253.89 L416.15,254.09 L417.03,254.29 L417.90,254.49 L418.78,254.69 L419.65,254.88 L420.53,255.08 L421.40,255.27 L422.28,255.46 L423.16,255.66 L424.04,255.84 L424.92,256.03 L425.79,256.22 L426.67,256.40 L427.55,256.58 L428.43,256.77 L429.31,256.95 L430.19,257.12 L431.08,257.30 L431.96,257.48 L432.84,257.65 L433.72,257.82 L434.60,257.99 L435.49,258.16 L436.37,258.33 L437.25,258.50 L438.14,258.67 L439.02,258.83 L439.91,258.99 L440.79,259.15 L441.68,259.31 L442.56,259.47 L443.45,259.63 L444.34,259.79 L445.22,259.94 L446.11,260.09 L447.00,260.25 L447.88,260.40 L448.77,260.55 L449.66,260.69 L450.55,260.84 L451.44,260.99 L452.33,261.13 L453.22,261.27 L454.11,261.42 L455.00,261.56 L455.89,261.70 L456.78,261.83 L457.67,261.97 L458.56,262.11 L459.45,262.24 L460.34,262.38 L461.23,262.51 L462.13,262.64 L463.02,262.77 L463.91,262.90 L464.80,263.02 L465.70,263.15 L466.59,263.28 L467.48,263.40 L468.38,263.52 L469.27,263.64 L470.17,263.77 L471.06,263.88 L471.96,264.00 L472.85,264.12 L473.75,264.24 L474.64,264.35 L475.54,264.47 L476.43,264.58 L477.33,264.69 L478.22,264.80 L479.12,264.91 L480.02,265.02 L480.91,265.13 L481.81,265.24 L482.71,265.34 L483.60,265.45 L484.50,265.55 L485.40,265.66 L486.30,265.76 L487.19,265.86 L488.09,265.96 L488.99,266.06 L489.89,266.16 L490.79,266.26 L491.68,266.35 L492.58,266.45 L493.48,266.54 L494.38,266.64 L495.28,266.73 L496.18,266.82 L497.08,266.91 L497.97,267.00 L498.87,267.09 L499.77,267.18 L500.67,267.27 L501.57,267.36 L502.47,267.44 L503.37,267.53 L504.27,267.61 L505.17,267.70 L506.07,267.78 L506.97,267.86 L507.87,267.95 L508.77,268.03 L509.67,268.11 L510.57,268.19 L511.47,268.26 L512.37,268.34 L513.27,268.42 L514.17,268.50 L515.07,268.57 L515.97,268.65 L516.87,268.72 L517.77,268.80 L518.67,268.87 L519.57,268.94 L520.47,269.01 L521.37,269.08 L522.27,269.15 L523.17,269.22 L524.07,269.29 L524.97,269.36 L525.87,269.43 L526.77,269.50 L527.67,269.57 L528.57,269.63 L529.47,269.70 L530.37,269.77 L531.27,269.83 L532.17,269.90 L533.07,269.96 L533.97,270.03 L534.87,270.10 L535.77,270.16 L536.67,270.23 L537.57,270.29 L538.47,270.36 L539.37,270.42 L540.27,270.49 L541.17,270.55 L542.07,270.62 L542.97,270.69 L543.87,270.75 L544.77,270.82 L545.67,270.89 L546.57,270.96 L547.47,271.02 L548.36,271.09 L549.26,271.16 L550.16,271.23 L551.06,271.30 L551.96,271.38 L552.86,271.45 L553.75,271.52 L554.65,271.59 L555.55,271.67 L556.45,271.75 L557.34,271.82 L558.24,271.90 L559.14,271.98 L560.04,272.06 L560.93,272.14 L561.83,272.22 L562.73,272.30 L563.62,272.39 L564.52,272.47 L565.42,272.56 L566.31,272.65 L567.21,272.74 L568.10,272.83 L569.00,272.92 L569.89,273.01 L570.79,273.11 L571.68,273.21 L572.58,273.30 L573.47,273.40 L574.37,273.51 L575.26,273.61 L576.15,273.72 L577.05,273.82 L577.94,273.93 L578.84,274.04 L579.73,274.16 L580.62,274.27 L581.51,274.39 L582.41,274.51 L583.30,274.63 L584.19,274.75 L585.08,274.88 L585.97,275.01 L586.86,275.14 L587.76,275.27 L588.65,275.41 L589.54,275.54 L590.43,275.68 L591.32,275.82 L592.21,275.97 L593.10,276.12 L593.98,276.27 L594.87,276.42 L595.76,276.58 L596.65,276.73 L597.54,276.89 L598.43,277.06 L599.31,277.22 L600.20,277.39 L601.09,277.57 L601.97,277.74 L602.86,277.92 L603.75,278.10 L604.63,278.29 L605.52,278.47 L606.40,278.67 L607.29,278.86 L608.17,279.06 L609.06,279.26 L609.94,279.46 L610.82,279.67 L611.71,279.88 L612.59,280.10 L613.47,280.31 L614.35,280.54 L615.23,280.76 L616.11,280.99 L616.99,281.22 L617.87,281.46 L618.75,281.70 L619.63,281.94 L620.50,282.19 L621.38,282.44 L622.25,282.70 L623.13,282.96 L624.00,283.22 L624.87,283.49 L625.73,283.76 L626.60,284.04 L627.47,284.32 L628.33,284.60 L629.19,284.89 L630.05,285.19 L630.91,285.48 L631.77,285.79 L632.62,286.09 L633.47,286.40 L634.32,286.72 L635.17,287.04 L636.01,287.37 L636.85,287.70 L637.69,288.03 L638.53,288.37 L639.37,288.71 L640.20,289.06 L641.03,289.42 L641.85,289.78 L642.68,290.14 L643.50,290.51 L644.31,290.89 L645.13,291.27 L645.94,291.65 L646.74,292.04 L647.55,292.44 L648.35,292.84 L649.15,293.24 L649.94,293.65 L650.73,294.07 L651.51,294.49 L652.29,294.92 L653.07,295.36 L653.85,295.80 L654.62,296.24 L655.38,296.69 L656.14,297.15 L656.90,297.61 L657.65,298.08 L658.40,298.55 L659.15,299.03 L659.89,299.51 L660.63,300.00 L661.36,300.50 L662.09,301.00 L662.81,301.50 L663.54,302.01 L664.25,302.53 L664.97,303.05 L665.68,303.58 L666.38,304.11 L667.08,304.64 L667.78,305.19 L668.48,305.73 L669.17,306.28 L669.85,306.84 L670.53,307.40 L671.21,307.96 L671.89,308.53 L672.56,309.11 L673.22,309.69 L673.89,310.27 L674.55,310.86 L675.20,311.45 L675.85,312.05 L676.50,312.65 L677.15,313.26 L677.79,313.87 L678.42,314.49 L679.06,315.11 L679.69,315.73 L680.31,316.36 L680.93,316.99 L681.55,317.63 L682.16,318.27 L682.78,318.91 L683.38,319.56 L683.99,320.21 L684.59,320.87 L685.18,321.53 L685.77,322.19 L686.36,322.86 L686.95,323.53 L687.53,324.21 L688.11,324.89 L688.68,325.57 L689.25,326.26 L689.82,326.95 L690.38,327.64 L690.94,328.34 L691.50,329.04 L692.05,329.75 L692.60,330.45 L693.15,331.16 L693.69,331.88 L694.23,332.60 L694.77,333.32 L695.30,334.04 L695.83,334.77 L696.35,335.50 L696.88,336.23 L697.39,336.97 L697.91,337.71 L698.42,338.45 L698.93,339.20 L699.43,339.94 L699.94,340.69 L700.43,341.45 L700.93,342.20 L701.42,342.96 L701.91,343.73 L702.39,344.49 L702.87,345.26 L703.35,346.03 L703.83,346.80 L704.30,347.57 L704.77,348.35 L705.23,349.13 L705.69,349.91 L706.15,350.70 L706.61,351.48 L707.06,352.27 L707.51,353.06 L707.95,353.86 L708.40,354.65 L708.84,355.45 L709.27,356.25 L709.70,357.05 L710.13,357.85 L710.56,358.66 L710.98,359.47 L711.40,360.27 L711.82,361.08 L712.24,361.90 L712.65,362.71 L713.05,363.53 L713.46,364.35 L713.86,365.16 L714.26,365.99 L714.65,366.81 L715.05,367.63 L715.44,368.46 L715.82,369.28 L716.21,370.11 L716.59,370.94 L716.96,371.77 L717.34,372.60 L717.71,373.44 L718.08,374.27 L718.44,375.11 L718.81,375.94 L719.17,376.78 L719.52,377.62 L719.88,378.46 L720.23,379.30 L720.58,380.14 L720.92,380.98 L721.26,381.82 L721.60,382.67 L721.94,383.51 L722.27,384.36 L722.60,385.20 L722.93,386.05 L723.26,386.90 L723.58,387.74 L723.90,388.59 L724.22,389.44 L724.53,390.29 L724.84,391.14 L725.15,391.99 L725.46,392.84 L725.76,393.69 L726.06,394.54 L726.36,395.39 L726.65,396.24 L726.95,397.09 L727.24,397.95 L727.53,398.80 L727.81,399.65 L728.10,400.51 L728.38,401.36 L728.66,402.21 L728.94,403.07 L729.21,403.92 L729.48,404.78 L729.76,405.63 L730.02,406.49 L730.29,407.35 L730.56,408.20 L730.82,409.06 L731.08,409.92 L731.34,410.78 L731.60,411.63 L731.86,412.49 L732.11,413.35 L732.36,414.21 L732.62,415.07 L732.87,415.93 L733.11,416.79 L733.36,417.65 L733.61,418.51 L733.85,419.37 L734.09,420.23 L734.34,421.09 L734.58,421.95 L734.82,422.81 L735.05,423.68 L735.29,424.54 L735.53,425.40 L735.76,426.26 L736.00,427.13 L736.23,427.99 L736.46,428.86 L736.69,429.72 L736.92,430.58 L737.15,431.45 L737.38,432.31 L737.61,433.18 L737.84,434.04 L738.06,434.91 L738.29,435.77 L738.52,436.64 L738.74,437.51 L738.97,438.37 L739.19,439.24 L739.42,440.11 L739.64,440.97 L739.86,441.84 L740.09,442.71 L740.31,443.58 L740.53,444.44 L740.76,445.31 L740.98,446.18 L741.20,447.05 L741.43,447.92 L741.65,448.78 L741.87,449.65 L742.09,450.52 L742.32,451.39 L742.54,452.26 L742.77,453.13 L742.99,454.00 L743.21,454.87 L743.44,455.74 L743.67,456.61 L743.89,457.48 L744.12,458.35 L744.34,459.22 L744.57,460.09 L744.80,460.96 L745.03,461.84 L745.26,462.71 L745.49,463.58 L745.72,464.45 L745.95,465.32 L746.19,466.19 L746.42,467.06 L746.66,467.94 L746.89,468.81 L747.13,469.68 L747.37,470.55 L747.61,471.42 L747.85,472.30 L748.09,473.17 L748.33,474.04 L748.58,474.91 L748.82,475.79 L749.07,476.66" stroke="#0000ff" stroke-dasharray="13.0 5.3 6.7 4.965" stroke-dashoffset="-7.43"/>
</g>
<g fill="none" stroke="#404040">
<path d="M110.13,468.40v-5.30M110.13,16.50v5.30M130.99,468.40v-5.30M130.99,16.50v5.30M151.86,468.40v-8.40M151.86,16.50v8.40M172.72,468.40v-5.30M172.72,16.50v5.30M193.58,468.40v-5.30M193.58,16.50v5.30M214.45,468.40v-5.30M214.45,16.50v5.30M235.31,468.40v-5.30M235.31,16.50v5.30M256.17,468.40v-8.40M256.17,16.50v8.40M277.03,468.40v-5.30M277.03,16.50v5.30M297.90,468.40v-5.30M297.90,16.50v5.30M318.76,468.40v-5.30M318.76,16.50v5.30M339.62,468.40v-5.30M339.62,16.50v5.30M360.49,468.40v-8.40M360.49,16.50v8.40M381.35,468.40v-5.30M381.35,16.50v5.30M402.21,468.40v-5.30M402.21,16.50v5.30M423.07,468.40v-5.30M423.07,16.50v5.30M443.94,468.40v-5.30M443.94,16.50v5.30M464.80,468.40v-8.40M464.80,16.50v8.40M485.66,468.40v-5.30M485.66,16.50v5.30M506.53,468.40v-5.30M506.53,16.50v5.30M527.39,468.40v-5.30M527.39,16.50v5.30M548.25,468.40v-5.30M548.25,16.50v5.30M569.11,468.40v-8.40M569.11,16.50v8.40M589.98,468.40v-5.30M589.98,16.50v5.30M610.84,468.40v-5.30M610.84,16.50v5.30M631.70,468.40v-5.30M631.70,16.50v5.30M652.57,468.40v-5.30M652.57,16.50v5.30M673.43,468.40v-8.40M673.43,16.50v8.40M694.29,468.40v-5.30M694.29,16.50v5.30M715.15,468.40v-5.30M715.15,16.50v5.30M736.02,468.40v-5.30M736.02,16.50v5.30M756.88,468.40v-5.30M756.88,16.50v5.30M777.74,468.40v-8.40M777.74,16.50v8.40M798.61,468.40v-5.30M798.61,16.50v5.30M819.47,468.40v-5.30M819.47,16.50v5.30M99.70,16.50h8.40M829.90,16.50h-8.40M99.70,34.58h5.30M829.90,34.58h-5.30M99.70,52.65h5.30M829.90,52.65h-5.30M99.70,70.73h5.30M829.90,70.73h-5.30M99.70,88.80h5.30M829.90,88.80h-5.30M99.70,106.88h8.40M829.90,106.88h-8.40M99.70,124.96h5.30M829.90,124.96h-5.30M99.70,143.03h5.30M829.90,143.03h-5.30M99.70,161.11h5.30M829.90,161.11h-5.30M99.70,179.18h5.30M829.90,179.18h-5.30M99.70,197.26h8.40M829.90,197.26h-8.40M99.70,215.34h5.30M829.90,215.34h-5.30M99.70,233.41h5.30M829.90,233.41h-5.30M99.70,251.49h5.30M829.90,251.49h-5.30M99.70,269.56h5.30M829.90,269.56h-5.30M99.70,287.64h8.40M829.90,287.64h-8.40M99.70,305.72h5.30M829.90,305.72h-5.30M99.70,323.79h5.30M829.90,323.79h-5.30M99.70,341.87h5.30M829.90,341.87h-5.30M99.70,359.94h5.30M829.90,359.94h-5.30M99.70,378.02h8.40M829.90,378.02h-8.40M99.70,396.10h5.30M829.90,396.10h-5.30M99.70,414.17h5.30M829.90,414.17h-5.30M99.70,432.25h5.30M829.90,432.25h-5.30M99.70,450.32h5.30M829.90,450.32h-5.30M99.70,468.40h8.40M829.90,468.40h-8.40" stroke-width="0.8"/>
<rect x="99.5" y="16.5" width="730.55" height="451.90" stroke="#4c4c4c" stroke-width="1.05"/>
</g>
<g style="will-change:transform">
<text transform="translate(133.58,500.90) scale(1.1026,1)" font-size="30.6">−</text>
<text x="154.68" y="498.40" font-size="30.6">1</text>
<text x="256.17" y="498.4" font-size="30.6" text-anchor="middle">0</text>
<text x="360.49" y="498.4" font-size="30.6" text-anchor="middle">1</text>
<text x="464.80" y="498.4" font-size="30.6" text-anchor="middle">2</text>
<text x="569.11" y="498.4" font-size="30.6" text-anchor="middle">3</text>
<text x="673.43" y="498.4" font-size="30.6" text-anchor="middle">4</text>
<text x="777.74" y="498.4" font-size="30.6" text-anchor="middle">5</text>
<text transform="translate(56.24,478.60) scale(1.0885,1)" font-size="30.6">−</text>
<text x="78.0" y="476.70" font-size="30.6">6</text>
<text transform="translate(56.24,388.22) scale(1.0885,1)" font-size="30.6">−</text>
<text x="78.0" y="386.32" font-size="30.6">5</text>
<text transform="translate(56.24,297.84) scale(1.0885,1)" font-size="30.6">−</text>
<text x="78.0" y="295.94" font-size="30.6">4</text>
<text transform="translate(56.24,207.46) scale(1.0885,1)" font-size="30.6">−</text>
<text x="78.0" y="205.56" font-size="30.6">3</text>
<text transform="translate(56.24,117.08) scale(1.0885,1)" font-size="30.6">−</text>
<text x="78.0" y="115.18" font-size="30.6">2</text>
<text transform="translate(56.24,26.70) scale(1.0885,1)" font-size="30.6">−</text>
<text x="78.0" y="24.80" font-size="30.6">1</text>
<text x="390.22 408.29 423.08" y="542.30" font-size="30.6">Log</text>
<text x="443.97" y="542.30" font-size="30.6">[</text>
<text x="455.71" y="542.30" font-size="30.6" font-style="italic">p</text>
<text x="471.55" y="542.30" font-size="30.6">/</text>
<text x="479.99" y="542.30" font-size="30.6" font-style="italic">m</text>
<text x="504.24" y="546.80" font-size="20.5" font-style="italic">p</text>
<text x="514.00" y="542.30" font-size="30.6" font-style="italic">c</text>
<text x="529.09" y="542.30" font-size="30.6">]</text>
<g transform="translate(30.8,404.4) rotate(-90)"><text x="-1.18 16.84 31.58" y="0.00" font-size="30.6">Log</text><text x="47.02" y="0.00" font-size="30.6">[</text><text x="63.69" y="0.00" font-size="30.6">4</text><text x="79.05" y="0.00" font-size="30.6" font-style="italic">π</text><text x="102.25" y="0.00" font-size="30.6">c</text><text x="116.40" y="0.00" font-size="30.6">/</text><text x="126.93" y="0.00" font-size="30.6" font-style="italic">E</text><text x="143.13 155.27" y="5.30" font-size="20.5">SN</text><text x="178.96" y="1.70" font-size="30.6">×</text><text x="205.01" y="0.00" font-size="30.6" font-style="italic">p</text><text x="220.53" y="-12.00" font-size="20.5">4</text><text x="239.70" y="0.00" font-size="30.6" font-style="italic">N</text><text x="262.79" y="4.50" font-size="20.5" font-style="italic">p</text><text x="273.36 283.11 297.75" y="0.00" font-size="30.6">(p)</text><text x="315.34" y="0.00" font-size="30.6">]</text></g>
<text x="640.99" y="59.30" font-size="27.3" font-style="italic">V</text>
<text x="657.25 664.81" y="63.70" font-size="19.5">sh</text>
<text transform="translate(675.35,61.20) scale(1.1839,1)" font-size="27.3">=</text>
<text x="693.80 707.76 721.73 735.69" y="59.30" font-size="27.3">2500</text>
<text x="755.58 769.88 792.12 800.06" y="59.30" font-size="27.3">km/s</text>
<text x="655.00" y="107.50" font-size="27.3" font-style="italic">n</text>
<text x="668.92" y="112.30" font-size="19.5">0</text>
<text transform="translate(679.56,109.40) scale(1.1335,1)" font-size="27.3">=</text>
<text x="698.80 711.54 717.92" y="107.50" font-size="27.3">1.5</text>
<text x="738.36 751.99" y="107.50" font-size="27.3">cm</text>
<text transform="translate(773.57,99.10) scale(1.0580,1)" font-size="19.5">−</text>
<text x="784.84" y="97.90" font-size="19.5">3</text>
<text x="668.65" y="150.20" font-size="27.3">d</text>
<text transform="translate(681.91,152.10) scale(1.1729,1)" font-size="27.3">=</text>
<text x="700.69 714.24 721.02" y="150.20" font-size="27.3">3.3</text>
<text x="742.48 756.30 770.12" y="150.20" font-size="27.3">kpc</text>
<text x="687.69" y="194.80" font-size="27.3" font-style="italic">β</text>
<text x="702.89" y="199.20" font-size="19.5" font-style="italic">e</text>
<text transform="translate(713.26,196.70) scale(1.1335,1)" font-size="27.3">=</text>
<text x="730.56 742.91 749.09" y="194.80" font-size="27.3">0.1</text>
<text x="127.88" y="294.90" font-size="27.3" font-style="italic" fill="#00a600">f</text>
<text x="138.32" y="298.80" font-size="19.5" font-style="italic" fill="#00a600">N</text>
<text transform="translate(153.35,296.80) scale(1.1414,1)" font-size="27.3" fill="#00a600">=</text>
<text x="170.56 184.21 191.04 204.69" y="294.90" font-size="27.3" fill="#00a600">0.60</text>
<text x="127.88" y="339.90" font-size="27.3" font-style="italic" fill="#aa0000">f</text>
<text x="138.32" y="343.80" font-size="19.5" font-style="italic" fill="#aa0000">N</text>
<text transform="translate(153.35,341.80) scale(1.1414,1)" font-size="27.3" fill="#aa0000">=</text>
<text x="170.56 184.21 191.04 204.69" y="339.90" font-size="27.3" fill="#aa0000">0.70</text>
<text x="127.88" y="384.60" font-size="27.3" font-style="italic" fill="#0000ff">f</text>
<text x="138.32" y="388.50" font-size="19.5" font-style="italic" fill="#0000ff">N</text>
<text transform="translate(153.35,386.50) scale(1.1414,1)" font-size="27.3" fill="#0000ff">=</text>
<text x="170.56 184.21 191.04 204.69" y="384.60" font-size="27.3" fill="#0000ff">0.80</text>
</g>
</svg>
</body></html>
